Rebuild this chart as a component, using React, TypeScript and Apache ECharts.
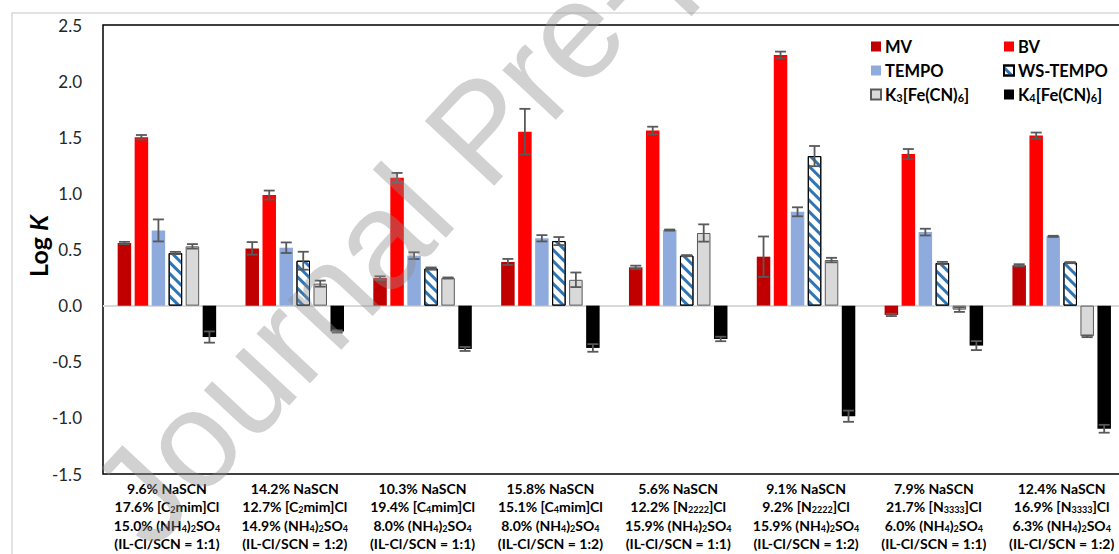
import React, { useEffect, useRef } from 'react';
import * as echarts from 'echarts';

const categories = [
  '9.6% NaSCN\n17.6% [C{s|2}mim]Cl\n15.0% (NH{s|4}){s|2}SO{s|4}\n(IL-Cl/SCN = 1:1)',
  '14.2% NaSCN\n12.7% [C{s|2}mim]Cl\n14.9% (NH{s|4}){s|2}SO{s|4}\n(IL-Cl/SCN = 1:2)',
  '10.3% NaSCN\n19.4% [C{s|4}mim]Cl\n8.0% (NH{s|4}){s|2}SO{s|4}\n(IL-Cl/SCN = 1:1)',
  '15.8% NaSCN\n15.1% [C{s|4}mim]Cl\n8.0% (NH{s|4}){s|2}SO{s|4}\n(IL-Cl/SCN = 1:2)',
  '5.6% NaSCN\n12.2% [N{s|2222}]Cl\n15.9% (NH{s|4}){s|2}SO{s|4}\n(IL-Cl/SCN = 1:1)',
  '9.1% NaSCN\n9.2% [N{s|2222}]Cl\n15.9% (NH{s|4}){s|2}SO{s|4}\n(IL-Cl/SCN = 1:2)',
  '7.9% NaSCN\n21.7% [N{s|3333}]Cl\n6.0% (NH{s|4}){s|2}SO{s|4}\n(IL-Cl/SCN = 1:1)',
  '12.4% NaSCN\n16.9% [N{s|3333}]Cl\n6.3% (NH{s|4}){s|2}SO{s|4}\n(IL-Cl/SCN = 1:2)',
];

const seriesNames = ['MV', 'BV', 'TEMPO', 'WS-TEMPO', 'K3[Fe(CN)6]', 'K4[Fe(CN)6]'];

const mvValues = [0.558, 0.51, 0.245, 0.389, 0.341, 0.436, -0.083, 0.359];
const mvErrors = [0.01, 0.056, 0.016, 0.027, 0.015, 0.18, 0.01, 0.01];
const bvValues = [1.5, 0.985, 1.139, 1.55, 1.56, 2.233, 1.35, 1.515];
const bvErrors = [0.02, 0.04, 0.043, 0.203, 0.034, 0.03, 0.045, 0.027];
const tempoValues = [0.67, 0.516, 0.445, 0.6, 0.673, 0.836, 0.655, 0.617];
const tempoErrors = [0.098, 0.047, 0.03, 0.028, 0.005, 0.04, 0.03, 0.005];
const wsTempoValues = [0.469, 0.4, 0.33, 0.575, 0.445, 1.332, 0.38, 0.383];
const wsTempoErrors = [0.01, 0.08, 0.01, 0.036, 0.005, 0.09, 0.01, 0.005];
const k3Values = [0.528, 0.196, 0.246, 0.23, 0.647, 0.406, -0.036, -0.273];
const k3Errors = [0.02, 0.027, 0.005, 0.065, 0.077, 0.02, 0.02, 0.008];
const k4Values = [-0.28, -0.23, -0.386, -0.377, -0.297, -0.985, -0.356, -1.097];
const k4Errors = [0.05, 0.01, 0.018, 0.034, 0.02, 0.05, 0.04, 0.035];

const yMin = -1.5;
const yMax = 2.5;
const yInterval = 0.5;

const allValues = [mvValues, bvValues, tempoValues, wsTempoValues, k3Values, k4Values];
const allErrors = [mvErrors, bvErrors, tempoErrors, wsTempoErrors, k3Errors, k4Errors];

const BAR_W = 13.5;
const BAR_GAP = 3.5;
const FONT = 'Lato';

const itemStyles: any[] = [
  { color: '#C00000' },
  { color: '#FF0000' },
  { color: '#8FAADC' },
  {
    color: '#FFFFFF',
    borderColor: '#000000',
    borderWidth: 1,
    decal: {
      symbol: 'rect',
      symbolSize: 1,
      dashArrayX: [1, 0],
      dashArrayY: [3, 5],
      rotation: Math.PI / 4,
      color: '#2E75B6',
    },
  },
  { color: '#D9D9D9', borderColor: '#595959', borderWidth: 1 },
  { color: '#000000' },
];

const legendFormatter = (name: string) => {
  if (name === 'K3[Fe(CN)6]') return 'K{s|3}[Fe(CN){s|6}]';
  if (name === 'K4[Fe(CN)6]') return 'K{s|4}[Fe(CN){s|6}]';
  return name;
};

const legendBase = {
  orient: 'vertical',
  top: 38,
  padding: 0,
  itemWidth: 10,
  itemHeight: 10,
  itemGap: 7,
  icon: 'rect',
  formatter: legendFormatter,
  textStyle: {
    fontFamily: FONT,
    fontWeight: 'bold',
    fontSize: 16.5,
    lineHeight: 16,
    color: '#000',
    padding: [0, 0, 0, -1],
    rich: {
      s: { fontFamily: FONT, fontWeight: 'bold', fontSize: 11, padding: [6, 0, 0, 0] },
    },
  },
};

// watermark geometry (angle in degrees, font size in px)
const WM_ANGLE = 47;
const WM_SIZE = 138;

export default function App() {
  const ref = useRef<HTMLDivElement>(null);

  useEffect(() => {
    if (!ref.current) return;
    const chart = echarts.init(ref.current, undefined, { renderer: 'svg' });

    const barSeries = seriesNames.map((name, idx) => ({
      name,
      type: 'bar',
      data: allValues[idx],
      barWidth: BAR_W,
      barGap: `${(BAR_GAP / BAR_W) * 100}%`,
      itemStyle: itemStyles[idx],
      z: 2,
      ...(idx === 0
        ? {
            markLine: {
              silent: true,
              symbol: 'none',
              label: { show: false },
              lineStyle: { color: '#D9D9D9', width: 2, type: 'solid' },
              data: [{ yAxis: 0 }],
              z: 1,
            },
          }
        : {}),
    }));

    const errSeries = seriesNames.map((name, idx) => ({
      name: name + ' error',
      type: 'custom',
      z: 5,
      encode: { x: 0, y: 1 },
      data: allValues[idx].map((v, i) => [i, v, allErrors[idx][i]]),
      renderItem: (params: any, api: any) => {
        const ci = api.value(0);
        const v = api.value(1);
        const e = api.value(2);
        const off = (idx - 2.5) * (BAR_W + BAR_GAP);
        const top = api.coord([ci, v + e]);
        const bot = api.coord([ci, v - e]);
        const x = top[0] + off;
        const hw = 5.5;
        const st = { stroke: '#595959', lineWidth: 1.8 };
        return {
          type: 'group',
          children: [
            { type: 'line', shape: { x1: x, y1: top[1], x2: x, y2: bot[1] }, style: st },
            { type: 'line', shape: { x1: x - hw, y1: top[1], x2: x + hw, y2: top[1] }, style: st },
            { type: 'line', shape: { x1: x - hw, y1: bot[1], x2: x + hw, y2: bot[1] }, style: st },
          ],
        };
      },
    }));

    const a = (WM_ANGLE * Math.PI) / 180;
    const upX = -Math.sin(a);
    const upY = -Math.cos(a);
    const baseX = 151.6;
    const baseY = 552.8;
    const mid = 0.3465 * WM_SIZE;

    chart.setOption({
      animation: false,
      backgroundColor: '#FFFFFF',
      grid: {
        left: 103,
        top: 25,
        right: 14.4,
        bottom: 80,
        show: true,
        borderColor: '#000000',
        borderWidth: 1.5,
        backgroundColor: 'transparent',
      },
      legend: [
        { ...legendBase, left: 870, data: ['MV', 'TEMPO', 'K3[Fe(CN)6]'] },
        { ...legendBase, left: 1003, data: ['BV', 'WS-TEMPO', 'K4[Fe(CN)6]'] },
      ],
      xAxis: {
        type: 'category',
        data: categories,
        axisLine: { show: false },
        axisTick: { show: false },
        splitLine: { show: false },
        axisLabel: {
          interval: 0,
          margin: 5,
          fontFamily: FONT,
          fontWeight: 'bold',
          fontSize: 14,
          lineHeight: 18.5,
          color: '#000',
          rich: {
            s: { fontFamily: FONT, fontWeight: 'bold', fontSize: 9, padding: [6, 0, 0, 0] },
          },
        },
      },
      yAxis: {
        type: 'value',
        min: yMin,
        max: yMax,
        interval: yInterval,
        axisLine: { show: false },
        axisTick: { show: false },
        splitLine: { show: false },
        axisLabel: {
          margin: 21,
          fontFamily: FONT,
          fontSize: 17,
          color: '#262626',
          formatter: (v: number) => v.toFixed(1),
        },
      },
      series: [...barSeries, ...errSeries],
      graphic: [
        {
          type: 'rect',
          z: -10,
          silent: true,
          shape: { x: 12, y: 13, width: 1160, height: 620 },
          style: { fill: 'none', stroke: '#D9D9D9', lineWidth: 1.5 },
        },
        {
          type: 'text',
          x: 38,
          y: 246,
          rotation: Math.PI / 2,
          silent: true,
          style: {
            text: 'Log {i|K}',
            fontFamily: FONT,
            fontWeight: 'bold',
            fontSize: 25,
            fill: '#000',
            align: 'center',
            verticalAlign: 'middle',
            rich: {
              i: { fontFamily: FONT, fontWeight: 'bold', fontStyle: 'italic', fontSize: 25, fill: '#000' },
            },
          },
        },
        {
          type: 'text',
          x: baseX + mid * upX,
          y: baseY + mid * upY,
          rotation: a,
          silent: true,
          z: 100,
          style: {
            text: 'Journal Pre-proof',
            fontFamily: '"Liberation Sans", Arial, sans-serif',
            fontSize: WM_SIZE,
            fill: 'rgba(140,140,140,0.4)',
            align: 'left',
            verticalAlign: 'middle',
          },
        },
      ],
    });

    return () => chart.dispose();
  }, []);

  return (
    <div
      style={{
        position: 'fixed',
        left: 0,
        top: 0,
        width: 1119,
        height: 554,
        overflow: 'hidden',
        background: '#fff',
      }}
    >
      <div ref={ref} style={{ width: 1140, height: 554 }} />
    </div>
  );
}
